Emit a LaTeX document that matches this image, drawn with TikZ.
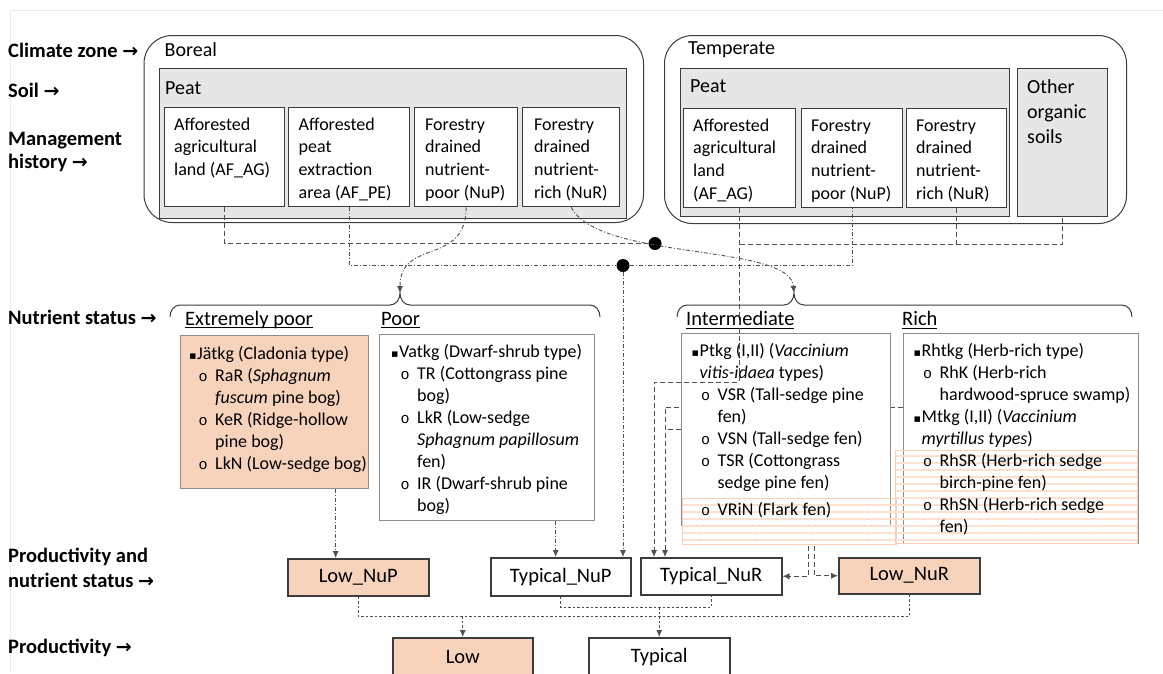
\documentclass[tikz,border=0pt]{standalone}
\usepackage{fontspec}
\setmainfont{Carlito}
\newfontfamily\symfont{DejaVu Sans}
\newfontfamily\bulfont{Liberation Mono}
\usetikzlibrary{arrows.meta,patterns.meta}
\pgfdeclarelayer{bg}
\pgfsetlayers{bg,main}

\definecolor{peach}{RGB}{248,211,188}
\definecolor{stripe}{RGB}{244,177,131}
\definecolor{peat}{RGB}{230,230,230}
\definecolor{edge}{RGB}{60,60,60}
\definecolor{wire}{RGB}{80,80,80}

% bullets and indents for the site-type lists
\newcommand\bsq{\makebox[8pt][l]{\symfont\fontsize{11}{22}\selectfont ▪}}
\newcommand\bsub{\makebox[26pt][l]{\hspace*{9.5pt}{\bulfont\fontsize{15}{22}\selectfont o}}}
\newcommand\bind{\hspace*{26pt}}
\newcommand\tind{\hspace*{8pt}}
\newcommand\hd[1]{\sbox0{#1}\rlap{\rule[-3pt]{\wd0}{1.1pt}}\usebox0}
\newcommand\rarr{{\symfont\bfseries\fontsize{19}{23}\selectfont →}}

\tikzset{
  lbl/.style={anchor=west, inner sep=0, align=left, font=\fontsize{20.5}{23.5}\selectfont\bfseries},
  hdr/.style={anchor=west, inner sep=0, font=\fontsize{20}{24}\selectfont},
  zone/.style={draw=edge, line width=1pt, rounded corners=28pt, anchor=north west, inner sep=0},
  soil/.style={draw=edge, fill=peat, line width=1.3pt, anchor=north west, inner sep=0},
  mgmt/.style={draw=edge, fill=white, line width=1.3pt, anchor=north west, inner sep=0},
  catbox/.style={draw=black!45, fill=white, line width=1.3pt, anchor=north west, inner sep=0},
  txt/.style={anchor=north west, inner sep=0, align=left, font=\fontsize{18}{22}\selectfont},
  mtxt/.style={txt, font=\fontsize{18}{22.7}\selectfont},
  res/.style={draw=edge, fill=white, line width=1.5pt, anchor=north west, inner sep=0, font=\fontsize{20.5}{24}\selectfont},
  hatch/.style={draw=stripe!60, line width=0.8pt, anchor=north west, inner sep=0, fill opacity=0.7,
    pattern={Lines[angle=0,distance=7pt,line width=2.5pt]}, pattern color=stripe!40},
  jdot/.style={circle, fill=black, inner sep=0, minimum size=13pt},
  dline/.style={draw=wire, line width=0.9pt, dash pattern=on 5pt off 3pt},
  ddot/.style={draw=wire, line width=0.9pt, dash pattern=on 4pt off 2pt on 1pt off 2pt},
  fine/.style={draw=wire, line width=0.9pt, dash pattern=on 2.5pt off 2pt},
  arr/.style={-{Latex[length=7pt,width=6pt]}}
}

\begin{document}
\begin{tikzpicture}[x=1pt,y=-1pt]
  \useasboundingbox (0,0) rectangle (1163,673);
  \clip (0,0) rectangle (1163,673);
  % faint page frame
  \draw[black!8, line width=1pt] (1163,10.5) -- (10,10.5) -- (10,673);

  % row labels
  \node[lbl] (lzone) at (8,50) {Climate zone \rarr};
  \node[lbl] (lsoil) at (8,90) {Soil \rarr};
  \node[lbl] (lmgmt) at (8,152) {Management\\history \rarr};
  \node[lbl] (lnut) at (8,317) {Nutrient status \rarr};
  \node[lbl] (lprodnut) at (8,567.5) {Productivity and\\[1.5pt]nutrient status \rarr};
  \node[lbl] (lprod) at (8,648) {Productivity \rarr};

  % climate zones and soils
  \node[zone, minimum width=499.5, minimum height=187] (boreal) at (143.5,35) {};
  \node[zone, minimum width=462, minimum height=188] (temperate) at (664,35) {};
  \node[hdr] (tboreal) at (164.5,50) {Boreal};
  \node[hdr] (ttemperate) at (688,50) {Temperate};
  \node[soil, minimum width=467, minimum height=150] (bpeat) at (159,68) {};
  \node[soil, minimum width=329, minimum height=148] (tpeat) at (680,68) {};
  \node[soil, minimum width=90, minimum height=148] (tother) at (1017,68) {};
  \node[hdr] (tbpeat) at (165,88) {Peat};
  \node[hdr] (ttpeat) at (690,86) {Peat};
  \node[hdr, align=left, font=\fontsize{20}{25}\selectfont] (tothert) at (1027,112) {Other\\organic\\soils};

  % management history
  \node[mgmt, minimum width=120, minimum height=99] (bag) at (164,107) {};
  \node[mgmt, minimum width=121, minimum height=99] (bpe) at (288,107) {};
  \node[mgmt, minimum width=103, minimum height=99] (bnup) at (414,107) {};
  \node[mgmt, minimum width=97, minimum height=99] (bnur) at (522,107) {};
  \node[mgmt, minimum width=112, minimum height=99] (tag) at (683,108) {};
  \node[mgmt, minimum width=101, minimum height=99] (tnup) at (801,108) {};
  \node[mgmt, minimum width=100, minimum height=99] (tnur) at (906,108) {};
  \node[mtxt] (bagt) at (174,114.1) {\strut Afforested\\agricultural\\land (AF\_AG)};
  \node[mtxt] (bpet) at (298.5,114.1) {\strut Afforested\\peat\\extraction\\area (AF\_PE)};
  \node[mtxt] (bnupt) at (425,114.1) {\strut Forestry\\drained\\nutrient-\\poor (NuP)};
  \node[mtxt] (bnurt) at (534,114.1) {\strut Forestry\\drained\\nutrient-\\rich (NuR)};
  \node[mtxt] (tagt) at (693,115.1) {\strut Afforested\\agricultural\\land\\(AF\_AG)};
  \node[mtxt] (tnupt) at (811,115.1) {\strut Forestry\\drained\\nutrient-\\poor (NuP)};
  \node[mtxt] (tnurt) at (916,115.1) {\strut Forestry\\drained\\nutrient-\\rich (NuR)};

  % nutrient status braces
  \coordinate (ptip) at (400,293);
  \coordinate (itip) at (794,293);
  \draw[edge, line width=1pt] (170,317) to[out=90,in=180] (180,305) -- (390,305)
    to[out=0,in=-90] (ptip) to[out=-90,in=180] (410,305) -- (590,305) to[out=0,in=90] (600,317);
  \draw[edge, line width=1pt] (677,317) to[out=90,in=180] (687,305) -- (784,305)
    to[out=0,in=-90] (itip) to[out=-90,in=180] (804,305) -- (1122,305) to[out=0,in=90] (1132,317);
  \node[hdr, font=\fontsize{20.5}{24}\selectfont] (hxpoor) at (185,320) {\hd{Extremely poor}};
  \node[hdr, font=\fontsize{20.5}{24}\selectfont] (hpoor) at (381,320) {\hd{Poor}};
  \node[hdr, font=\fontsize{20.5}{24}\selectfont] (hinter) at (686,320) {\hd{Intermediate}};
  \node[hdr, font=\fontsize{20.5}{24}\selectfont] (hrich) at (902,320) {\hd{Rich}};

  % site type boxes
  \node[catbox, fill=peach, minimum width=188, minimum height=153] (xpoor) at (180,335) {};
  \node[catbox, minimum width=215, minimum height=186] (poor) at (379,334) {};
  \node[catbox, minimum width=209, minimum height=192] (inter) at (681,333) {};
  \node[catbox, minimum width=235, minimum height=210] (rich) at (903,333) {};
  \node[hatch, minimum width=214, minimum height=46] (flark) at (681,497) {};
  \node[hatch, minimum width=242, minimum height=93] (rhsedge) at (895,450) {};
  \node[txt] (xpoort) at (189,343.6) {\strut\bsq Jätkg (Cladonia type)\\
    \bsub RaR (\textit{Sphagnum}\\
    \bind\textit{fuscum} pine bog)\\
    \bsub KeR (Ridge-hollow\\
    \bind pine bog)\\
    \bsub LkN (Low-sedge bog)};
  \node[txt] (poort) at (391,341.6) {\strut\bsq Vatkg (Dwarf-shrub type)\\
    \bsub TR (Cottongrass pine\\
    \bind bog)\\
    \bsub LkR (Low-sedge\\
    \bind\textit{Sphagnum papillosum}\\
    \bind fen)\\
    \bsub IR (Dwarf-shrub pine\\
    \bind bog)};
  \node[txt] (intert) at (691.5,340.6) {\strut\bsq Ptkg (I,II) (\textit{Vaccinium}\\
    \tind\textit{vitis-idaea} types)\\
    \bsub VSR (Tall-sedge pine\\
    \bind fen)\\
    \bsub VSN (Tall-sedge fen)\\
    \bsub TSR (Cottongrass\\
    \bind sedge pine fen)\\[5pt]
    \bsub VRiN (Flark fen)};
  \node[txt] (richt) at (913.5,340.6) {\strut\bsq Rhtkg (Herb-rich type)\\
    \bsub RhK (Herb-rich\\
    \bind hardwood-spruce swamp)\\
    \bsq Mtkg (I,II) (\textit{Vaccinium}\\
    \tind\textit{myrtillus types})\\
    \bsub RhSR (Herb-rich sedge\\
    \bind birch-pine fen)\\
    \bsub RhSN (Herb-rich sedge\\
    \bind fen)};

  % productivity classes
  \node[res, fill=peach, minimum width=141, minimum height=37] (lownup) at (287,558) {Low\_NuP};
  \node[res, minimum width=140, minimum height=38] (typnup) at (490,557) {Typical\_NuP};
  \node[res, minimum width=141, minimum height=37] (typnur) at (640,557) {Typical\_NuR};
  \node[res, fill=peach, minimum width=141, minimum height=36] (lownur) at (838,557) {Low\_NuR};
  \node[res, fill=peach, minimum width=140, minimum height=38] (low) at (392,637) {Low};
  \node[res, minimum width=141, minimum height=38] (typical) at (588,637) {Typical};

  % junction dots
  \node[jdot] (dotA) at (655,243.5) {};
  \node[jdot] (dotB) at (623,265.5) {};

  % management history -> nutrient status
  \coordinate (tbus) at (0,244);
  \coordinate (tdrop) at (654,382);
  \draw[dline] (bag.south) |- (dotA);
  \draw[ddot] (bpe.south) |- (dotB) -| (tnup.south);
  \draw[ddot,arr] (dotB) -- (dotB |- typnup.north);
  \draw[ddot,arr] (bnup.south) .. controls +(0,59) and +(0,-55) .. (ptip);
  \draw[ddot,arr] (bnur.south) .. controls +(28,54) and +(-4,-50) .. (itip);
  \draw[dline,arr] (tag.south) |- (tdrop) -- (tdrop |- typnur.north);
  \draw[dline] (tag.south |- tbus) -| (tother.south);
  \draw[dline] (tnur.south) -- (tnur.south |- tbus);

  % site types -> productivity and nutrient status
  \coordinate (rturn) at (665,407);
  \coordinate (stub) at (665,429);
  \begin{pgfonlayer}{bg}
    \draw[dline,arr] (rich.west |- rturn) -- (rturn) -- (rturn |- typnur.north);
  \end{pgfonlayer}
  \draw[dline] (inter.west |- stub) -- (stub);
  \draw[ddot,arr] ([xshift=61pt]xpoor.south) -- ([xshift=61pt]xpoor.south |- lownup.north);
  \draw[ddot,arr] ([xshift=68.5pt]poor.south) -- ([xshift=68.5pt]poor.south |- typnup.north);
  \draw[dline,arr] ([xshift=19pt]flark.south) |- (typnur.east);
  \draw[dline,arr] ([xshift=25pt]flark.south) |- (lownur.west);

  % productivity and nutrient status -> productivity
  \coordinate (tbusb) at (0,607);
  \coordinate (lbusb) at (0,616);
  \draw[fine] (typnup.south) |- (tbusb -| typnur.south) -- (typnur.south);
  \draw[fine,arr] (tbusb -| typical.north) -- (typical.north);
  \draw[fine] (lownup.south) |- (lbusb -| lownur.south) -- (lownur.south);
  \draw[fine,arr] (lbusb -| low.north) -- (low.north);
\end{tikzpicture}
\end{document}
